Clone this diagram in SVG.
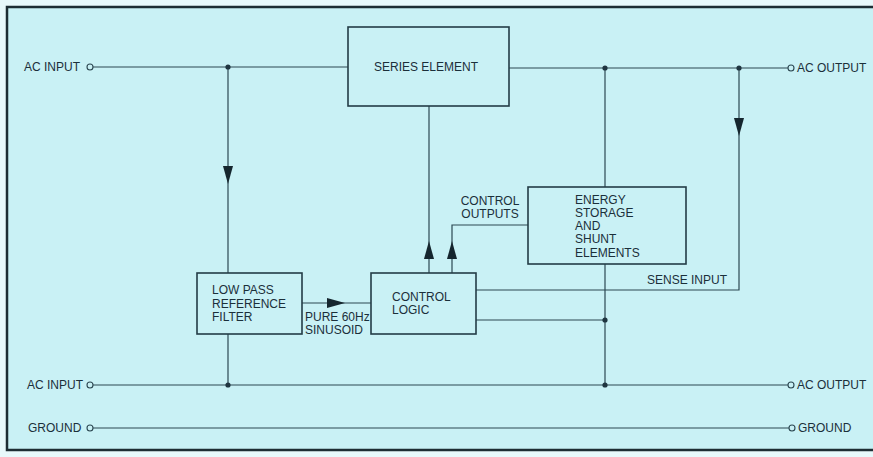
<svg xmlns="http://www.w3.org/2000/svg" width="873" height="457" viewBox="0 0 873 457">
<style>
text{font-family:"Liberation Sans",Arial,sans-serif;font-size:12px;fill:#1b2f3a}
.box{fill:none;stroke:#243c46;stroke-width:1.6}
.w{fill:none;stroke:#2c4852;stroke-width:1.2}
.term{fill:#c9f1f5;stroke:#2c4852;stroke-width:1.1}
.dot{fill:#1f3540}
.ah{fill:#15262e}
</style>
<defs>
<polygon id="adown" points="-5,-9 5,-9 0,9"/>
</defs>
<rect x="0" y="0" width="873" height="457" fill="#e8f9fb"/>
<rect x="7" y="7" width="880" height="443" fill="#c9f1f5" stroke="#1d2d33" stroke-width="2.5"/>

<g id="connectors">
<line class="w" x1="93" y1="67" x2="348" y2="67"/>
<line class="w" x1="509" y1="68" x2="788" y2="68"/>
<line class="w" x1="228" y1="67" x2="228" y2="273"/>
<line class="w" x1="429" y1="106" x2="429" y2="273"/>
<line class="w" x1="605" y1="68" x2="605" y2="187"/>
<polyline class="w" points="739,68 739,290 476,290"/>
<polyline class="w" points="528,225 452,225 452,273"/>
<line class="w" x1="302" y1="303" x2="371" y2="303"/>
<line class="w" x1="476" y1="320" x2="605" y2="320"/>
<line class="w" x1="605" y1="264" x2="605" y2="385"/>
<line class="w" x1="228" y1="334" x2="228" y2="385"/>
<line class="w" x1="93" y1="385" x2="788" y2="385"/>
<line class="w" x1="93" y1="428" x2="789" y2="428"/>
<use href="#adown" class="ah" transform="translate(228,175)"/>
<use href="#adown" class="ah" transform="translate(739,127)"/>
<use href="#adown" class="ah" transform="translate(429,250) rotate(180)"/>
<use href="#adown" class="ah" transform="translate(452,250) rotate(180)"/>
<use href="#adown" class="ah" transform="translate(336,303) rotate(-90)"/>
<circle class="dot" cx="228" cy="67" r="2.6"/>
<circle class="dot" cx="605" cy="68" r="2.6"/>
<circle class="dot" cx="739" cy="68" r="2.6"/>
<circle class="dot" cx="228" cy="385" r="2.6"/>
<circle class="dot" cx="605" cy="320" r="2.6"/>
<circle class="dot" cx="605" cy="385" r="2.6"/>
</g>

<g id="ac-input-top">
<text x="24" y="71">AC INPUT</text>
<circle class="term" cx="90" cy="67" r="3"/>
</g>
<g id="ac-input-bottom">
<text x="27" y="389">AC INPUT</text>
<circle class="term" cx="90" cy="385" r="3"/>
</g>
<g id="ground-left">
<text x="28" y="432">GROUND</text>
<circle class="term" cx="90" cy="428" r="3"/>
</g>
<g id="ac-output-top">
<circle class="term" cx="791" cy="68" r="3"/>
<text x="797" y="72">AC OUTPUT</text>
</g>
<g id="ac-output-bottom">
<circle class="term" cx="791" cy="385" r="3"/>
<text x="797" y="389">AC OUTPUT</text>
</g>
<g id="ground-right">
<circle class="term" cx="792" cy="428" r="3"/>
<text x="798" y="432">GROUND</text>
</g>

<g id="series-element">
<rect class="box" x="348" y="27" width="161" height="79"/>
<text x="426" y="71" text-anchor="middle">SERIES ELEMENT</text>
</g>
<g id="energy-storage">
<rect class="box" x="528" y="187" width="158" height="77"/>
<text x="575" y="204">ENERGY</text>
<text x="575" y="217">STORAGE</text>
<text x="575" y="230">AND</text>
<text x="575" y="243">SHUNT</text>
<text x="575" y="257">ELEMENTS</text>
</g>
<g id="low-pass-filter">
<rect class="box" x="197" y="273" width="105" height="61"/>
<text x="212" y="294">LOW PASS</text>
<text x="212" y="308">REFERENCE</text>
<text x="212" y="321">FILTER</text>
</g>
<g id="control-logic">
<rect class="box" x="371" y="273" width="105" height="61"/>
<text x="392" y="301">CONTROL</text>
<text x="392" y="314">LOGIC</text>
</g>
<g id="labels">
<text x="490" y="205" text-anchor="middle">CONTROL</text>
<text x="490" y="218" text-anchor="middle">OUTPUTS</text>
<text x="647" y="284">SENSE INPUT</text>
<text x="305" y="321" font-size="11.5">PURE 60Hz</text>
<text x="305" y="334" font-size="11.5">SINUSOID</text>
</g>
</svg>
